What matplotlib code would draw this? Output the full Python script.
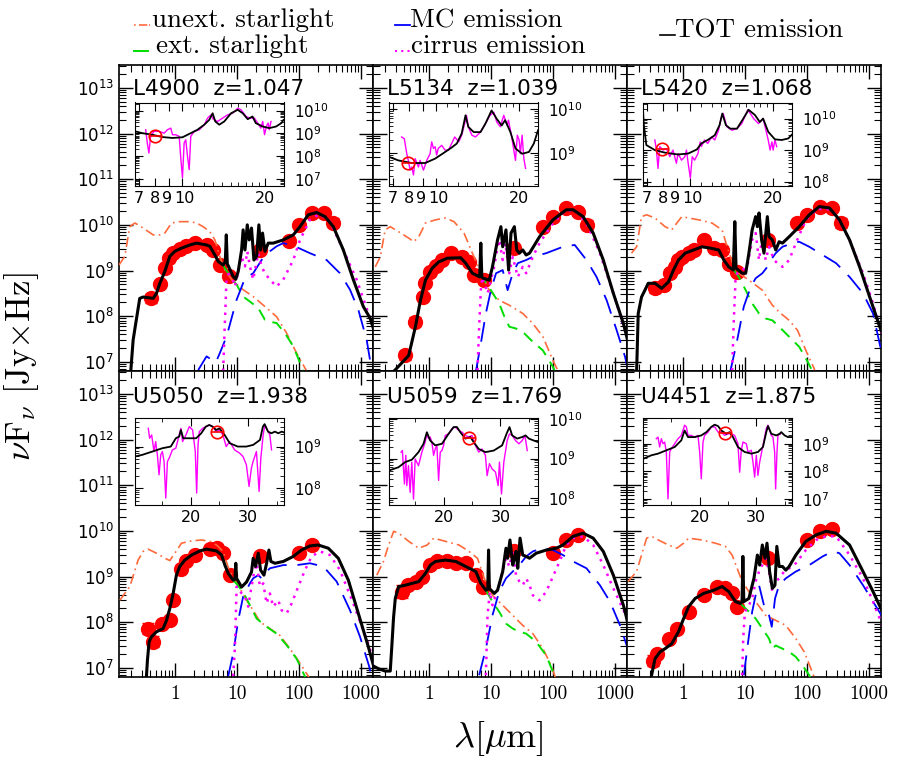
import numpy as np
import matplotlib
matplotlib.use("Agg")
import matplotlib.pyplot as plt
from matplotlib.lines import Line2D
from matplotlib.transforms import offset_copy
from matplotlib.ticker import FixedLocator, FuncFormatter, NullFormatter, LogFormatterMathtext

plt.rcParams["font.family"] = ["DejaVu Sans"]
plt.rcParams["mathtext.fontset"] = "cm"

# all curves: (lambda [um], log10 nuFnu [Jy x Hz]); photometry: (lambda, log10 nuFnu, log error)

# ---------------- L4900 z=1.047 ----------------
l4900_tot = [(0.195, 6.80), (0.213, 7.48), (0.235, 7.85), (0.272, 8.39), (0.308, 8.42), (0.448, 8.39),
             (0.506, 8.50), (0.573, 8.72), (0.69, 8.98), (0.83, 9.31), (1.0, 9.42), (1.28, 9.49),
             (1.75, 9.56), (2.24, 9.60), (3.24, 9.56), (3.67, 9.53), (4.42, 9.34), (5.0, 9.20),
             (6.0, 9.12), (6.5, 9.20), (6.75, 9.78), (7.0, 9.15), (8.7, 8.87), (9.6, 8.81),
             (10.5, 8.98), (11.9, 9.45), (12.6, 9.89), (13.5, 9.45), (14.7, 10.0), (15.8, 9.67),
             (17.2, 9.93), (18.8, 9.23), (20.8, 9.31), (22.6, 10.0), (24.1, 9.45), (25.9, 9.82),
             (28.3, 9.42), (32, 9.60), (38.5, 9.60), (55.9, 9.67), (81, 9.78), (104, 9.96),
             (141, 10.22), (193, 10.27), (263, 10.18), (358, 9.96), (519, 9.45), (752, 8.80),
             (1090, 8.21), (1397, 7.96), (1700, 7.6)]
l4900_unext = [(0.126, 9.12), (0.156, 9.31), (0.188, 9.96), (0.226, 10.04), (0.256, 10.0), (0.308, 9.93),
               (0.448, 9.78), (0.573, 9.78), (0.69, 9.82), (0.884, 10.04), (1.2, 10.07), (1.75, 10.07),
               (2.24, 10.04), (2.86, 9.96), (3.67, 9.85), (4.42, 9.67), (5.3, 9.31), (6.4, 9.01),
               (8.7, 8.76), (12.6, 8.58), (18.3, 8.43), (30.1, 8.18), (43.6, 7.99), (63.2, 7.63),
               (91.7, 7.19), (133, 6.80), (160, 6.5)]
l4900_ext = [(6.0, 9.12), (6.4, 9.05), (8.2, 8.83), (9.9, 8.69), (12.6, 8.43), (16.2, 8.32), (22.1, 8.18),
             (28.3, 7.92), (34, 7.88), (43.6, 7.85), (59.4, 7.63), (81, 7.34), (110, 6.90), (125, 6.7)]
l4900_mc = [(2.38, 6.82), (3.24, 7.12), (4.58, 6.99), (5.3, 7.19), (6.8, 7.55), (9.9, 8.36), (13.5, 8.83),
            (18.3, 8.94), (25, 9.23), (34, 9.42), (43.6, 9.53), (55.9, 9.60), (86, 9.53), (150, 9.38),
            (279, 9.23), (458, 8.94), (665, 8.58), (906, 8.14), (1234, 7.48), (1397, 7.04), (1600, 6.6)]
l4900_cirrus = [(6.0, 6.80), (6.4, 7.85), (6.8, 8.80), (7.7, 9.01), (9.3, 8.65), (11.9, 9.31), (13.5, 9.09),
                (14.7, 9.42), (16.2, 9.09), (18.3, 8.80), (22.1, 9.38), (25, 9.09), (28.3, 8.94),
                (34, 8.80), (43.6, 8.65), (55.9, 8.80), (81, 9.23), (104, 9.67), (150, 10.11),
                (218, 10.24), (316, 10.07), (519, 9.45), (851, 8.80), (1397, 7.96), (1700, 7.6)]
l4900_pts = [(0.42, 8.39, 0.1), (0.57, 8.71, 0), (0.69, 9.05, 0), (0.81, 9.27, 0), (0.94, 9.38, 0),
             (1.2, 9.47, 0), (1.54, 9.53, 0), (2.1, 9.61, 0), (3.24, 9.56, 0), (4.15, 9.45, 0),
             (5.3, 9.12, 0), (7.5, 8.88, 0), (24, 9.45, 0), (70, 9.65, 0.08), (100, 10.0, 0),
             (160, 10.25, 0), (250, 10.27, 0), (350, 10.05, 0.1)]
l4900_irs_model = [(6.77, 9.09), (7.19, 9.01), (7.82, 8.94), (8.5, 8.84), (9.25, 8.80), (10.05, 8.83),
                   (10.77, 9.01), (11.39, 9.16), (12.05, 9.38), (12.56, 9.59), (12.92, 9.88), (13.21, 9.52),
                   (13.65, 9.38), (14.23, 9.52), (15.06, 9.88), (15.92, 10.03), (16.6, 9.88), (17.3, 9.62),
                   (18.0, 9.74), (18.5, 9.45), (19.6, 9.30), (20.7, 9.23), (21.9, 9.30), (22.9, 9.45),
                   (23.3, 9.59)]
l4900_irs_spec = [(7.40, 9.16), (7.50, 8.58), (7.60, 8.14), (7.71, 8.87), (7.93, 9.09), (8.27, 9.09),
                  (8.63, 9.01), (8.87, 9.16), (9.12, 9.23), (9.25, 8.94), (9.51, 8.94), (9.78, 8.87),
                  (9.92, 7.86), (10.05, 7.06), (10.19, 8.58), (10.33, 8.72), (10.48, 8.0), (10.63, 7.42),
                  (10.77, 8.87), (11.09, 9.09), (11.57, 9.16), (12.05, 9.38), (12.39, 9.67), (12.74, 9.81),
                  (12.98, 9.62), (13.46, 9.52), (14.04, 9.67), (14.64, 9.81), (15.26, 9.88), (15.92, 10.1),
                  (16.37, 10.03), (17.06, 9.74), (17.55, 9.67), (18.29, 9.67), (18.8, 9.45), (19.3, 9.23),
                  (19.6, 9.52), (19.9, 8.94), (20.2, 9.30), (20.5, 9.45), (20.7, 9.16), (21.0, 9.52)]
l4900_irs_phot = (8.0, 8.87)

# ---------------- L5134 z=1.039 ----------------
l5134_tot = [(0.124, 6.5), (0.281, 6.81), (0.474, 7.14), (0.608, 7.77), (0.733, 8.35), (0.883, 8.79),
             (1.13, 9.05), (1.45, 9.19), (1.98, 9.27), (3.26, 9.28), (3.93, 9.16), (5.04, 8.94),
             (6.6, 8.86), (6.88, 9.60), (7.14, 8.86), (7.51, 8.83), (9.4, 8.79), (10.6, 9.08),
             (12.8, 9.67), (14.5, 9.96), (15.5, 9.52), (17.5, 9.89), (19.3, 9.01), (21.1, 9.82),
             (23.9, 9.96), (26.1, 9.45), (28.8, 9.38), (32.6, 9.45), (37, 9.34), (41.9, 9.38),
             (60.8, 9.74), (100, 10.11), (164, 10.33), (211, 10.33), (306, 10.18), (445, 9.82),
             (647, 9.23), (940, 8.50), (1365, 7.84), (1545, 7.55), (1700, 7.3)]
l5134_unext = [(0.137, 9.08), (0.165, 9.30), (0.198, 9.89), (0.239, 9.96), (0.326, 9.85), (0.474, 9.71),
               (0.571, 9.63), (0.689, 9.74), (0.883, 10.04), (1.28, 10.11), (1.86, 10.15), (2.54, 10.07),
               (3.69, 9.82), (5.04, 9.38), (6.88, 8.94), (9.4, 8.57), (13.6, 8.35), (19.8, 8.24),
               (32.6, 8.06), (47.4, 7.84), (68.9, 7.55), (100, 7.03), (120, 6.81), (140, 6.6)]
l5134_ext = [(6.47, 8.94), (7.8, 8.79), (10, 8.57), (13.6, 8.28), (16.5, 7.99), (19.8, 7.77), (25.4, 7.73),
             (34.7, 7.62), (47.4, 7.44), (68.9, 7.25), (100, 6.89), (115, 6.7)]
l5134_mc = [(5.71, 6.78), (6.88, 7.40), (8.3, 8.06), (10, 8.57), (12.1, 8.94), (15.5, 9.01), (18.6, 8.57),
            (22.5, 8.94), (27.1, 9.16), (37, 9.23), (47.4, 9.30), (78, 9.38), (145, 9.52), (224, 9.56),
            (347, 9.23), (504, 8.86), (733, 8.35), (1065, 7.69), (1452, 7.11), (1700, 6.7)]
l5134_cirrus = [(6.08, 6.81), (6.47, 7.77), (6.88, 8.57), (7.33, 8.86), (8.83, 8.50), (11.3, 9.08),
                (12.8, 9.52), (13.6, 9.67), (15.5, 9.23), (17.1, 9.60), (19.8, 8.94), (22.5, 9.30),
                (27.1, 8.86), (32.6, 9.08), (37, 8.94), (47.4, 9.30), (60.8, 9.60), (100, 10.04),
                (164, 10.33), (239, 10.29), (347, 10.04), (571, 9.38), (940, 8.50), (1452, 7.69),
                (1700, 7.4)]
l5134_pts = [(0.42, 7.14, 0.1), (0.59, 7.88, 0.1), (0.8, 8.42, 0), (0.88, 8.72, 0), (1.06, 8.97, 0),
             (1.31, 9.10, 0), (1.64, 9.23, 0), (2.24, 9.38, 0), (3.47, 9.30, 0), (4.45, 9.19, 0),
             (5.37, 8.90, 0), (7.8, 8.79, 0), (24, 9.49, 0), (70, 9.96, 0), (100, 10.18, 0),
             (160, 10.37, 0), (250, 10.29, 0), (350, 10.0, 0.1)]
l5134_irs_model = [(6.77, 8.91), (7.31, 8.83), (8.18, 8.77), (9.15, 8.77), (9.94, 8.87), (10.8, 9.02),
                   (11.4, 9.12), (11.9, 9.21), (12.4, 9.44), (12.8, 9.85), (13.1, 9.59), (13.7, 9.47),
                   (14.5, 9.47), (15.1, 9.66), (15.9, 9.96), (16.6, 9.77), (17.3, 9.62), (17.8, 9.74),
                   (18.6, 9.47), (19.4, 9.10), (20.5, 8.98), (21.7, 9.02), (22.6, 9.21), (23.4, 9.51)]
l5134_irs_spec = [(7.52, 9.36), (7.69, 9.32), (7.85, 8.98), (7.95, 8.83), (8.07, 8.61), (8.18, 8.68),
                  (8.30, 8.50), (8.41, 8.87), (8.65, 8.68), (8.77, 8.83), (9.02, 8.61), (9.27, 8.83),
                  (9.53, 8.98), (9.66, 9.25), (9.80, 9.10), (9.94, 9.14), (10.07, 8.95), (10.2, 9.10),
                  (10.5, 9.17), (10.8, 9.06), (11.1, 9.06), (11.4, 9.21), (11.7, 9.36), (12.1, 9.25),
                  (12.4, 9.40), (12.8, 9.74), (12.9, 9.85), (13.1, 9.59), (13.5, 9.40), (13.9, 9.36),
                  (14.5, 9.47), (15.1, 9.66), (15.7, 9.85), (16.2, 9.92), (16.6, 9.70), (17.1, 9.59),
                  (17.6, 9.85), (18.1, 9.62), (18.3, 9.74), (18.8, 9.36), (19.4, 8.83), (19.7, 9.40),
                  (20.0, 9.29), (20.2, 8.98), (20.5, 9.40), (20.8, 8.87), (21.1, 8.65)]
l5134_irs_phot = (7.9, 8.76)

# ---------------- L5420 z=1.068 ----------------
l5420_tot = [(0.18, 6.78), (0.191, 8.06), (0.216, 8.42), (0.245, 8.57), (0.277, 8.72), (0.356, 8.72),
             (0.456, 8.61), (0.586, 8.75), (0.706, 9.01), (0.851, 9.23), (1.09, 9.38), (1.49, 9.45),
             (2.03, 9.52), (2.78, 9.49), (3.79, 9.45), (4.57, 9.23), (5.5, 9.08), (6.5, 9.01),
             (6.88, 10.07), (7.2, 9.05), (9.05, 8.94), (10.3, 8.94), (11.6, 9.38), (13.1, 9.89),
             (14.9, 10.18), (15.9, 9.96), (16.9, 10.26), (18.6, 9.67), (20.3, 9.38), (23, 10.18),
             (24.5, 9.74), (27.7, 9.67), (31.4, 9.45), (35.6, 9.63), (40.3, 9.60), (51.7, 9.74),
             (75, 9.96), (109, 10.22), (158, 10.40), (230, 10.37), (334, 10.11), (486, 9.67),
             (706, 9.08), (1025, 8.42), (1489, 7.77), (1644, 7.62)]
l5420_unext = [(0.149, 9.38), (0.18, 9.52), (0.216, 10.18), (0.261, 10.22), (0.356, 10.15), (0.517, 9.96),
               (0.663, 9.89), (0.80, 10.04), (0.963, 10.18), (1.24, 10.15), (1.8, 10.11), (2.95, 10.04),
               (4.29, 9.89), (5.17, 9.52), (6.63, 9.08), (8.0, 8.94), (11.6, 8.79), (19.1, 8.57),
               (27.7, 8.24), (37.9, 8.06), (51.7, 7.91), (70.6, 7.69), (96, 7.25), (131, 6.85), (150, 6.6)]
l5420_ext = [(6.63, 9.01), (8.0, 8.86), (10.3, 8.57), (13.1, 8.28), (16.9, 8.06), (21.6, 7.95), (27.7, 7.91),
             (35.6, 7.77), (51.7, 7.55), (75, 7.33), (103, 7.0), (124, 6.78)]
l5420_mc = [(5.86, 6.81), (7.5, 7.47), (9.6, 8.21), (12.4, 8.64), (14.9, 8.83), (19.1, 8.94), (23, 9.08),
            (26.1, 9.23), (31.4, 9.38), (40.3, 9.52), (58.6, 9.60), (75, 9.63), (109, 9.52), (179, 9.34),
            (295, 9.16), (486, 8.86), (800, 8.50), (1161, 8.06), (1585, 7.22)]
l5420_cirrus = [(6.23, 6.81), (6.63, 7.91), (7.06, 8.79), (7.5, 8.94), (10.9, 9.08), (13.1, 9.67),
                (14.9, 9.82), (16.9, 9.23), (19.1, 9.74), (21.6, 9.23), (24.5, 9.52), (29.5, 9.23),
                (33.4, 9.16), (40.3, 9.08), (51.7, 9.23), (66.3, 9.60), (96, 10.11), (140, 10.33),
                (203, 10.37), (295, 10.22), (486, 9.67), (800, 8.94), (1161, 8.28), (1644, 7.55)]
l5420_pts = [(0.36, 8.61, 0.1), (0.49, 8.68, 0), (0.62, 8.94, 0), (0.75, 9.08, 0), (0.85, 9.23, 0),
             (0.96, 9.30, 0), (1.24, 9.38, 0), (1.49, 9.45, 0), (2.16, 9.67, 0), (3.14, 9.49, 0),
             (4.29, 9.45, 0), (5.5, 9.14, 0), (7.5, 8.97, 0), (24, 9.67, 0), (70, 10.04, 0),
             (100, 10.22, 0), (160, 10.40, 0), (250, 10.37, 0), (350, 10.04, 0.1)]
l5420_irs_model = [(6.77, 10.3), (6.81, 9.84), (6.96, 9.16), (7.47, 9.0), (8.11, 8.92), (9.06, 8.86),
                   (9.86, 8.89), (10.6, 9.02), (11.0, 9.21), (11.6, 9.32), (12.3, 9.47), (12.8, 9.79),
                   (13.1, 10.16), (13.5, 9.79), (14.0, 9.68), (14.8, 9.68), (15.6, 10.0), (16.3, 10.28),
                   (17.2, 10.11), (17.9, 9.89), (18.4, 10.0), (19.2, 9.58), (20.3, 9.34), (21.5, 9.32),
                   (22.7, 9.37), (23.5, 9.51)]
l5420_irs_spec = [(7.47, 9.32), (7.57, 9.0), (7.67, 8.42), (7.78, 9.11), (8.0, 9.0), (8.22, 9.05),
                  (8.46, 8.79), (8.69, 9.0), (8.94, 8.58), (9.06, 8.89), (9.33, 8.68), (9.59, 8.79),
                  (9.72, 9.0), (9.86, 8.58), (10.04, 8.11), (10.2, 8.79), (10.4, 8.68), (10.7, 8.89),
                  (10.9, 9.26), (11.0, 9.11), (11.3, 9.32), (11.6, 9.21), (12.0, 9.42), (12.3, 9.32),
                  (12.7, 9.63), (13.0, 10.05), (13.2, 10.16), (13.6, 9.74), (14.2, 9.63), (14.8, 9.68),
                  (15.4, 9.84), (16.2, 10.28), (17.0, 10.0), (17.7, 9.84), (18.4, 10.0), (19.2, 9.32),
                  (19.5, 9.0), (19.8, 9.26), (20.0, 9.0), (20.3, 9.32), (20.6, 9.11)]
l5420_irs_phot = (7.9, 9.05)

# ---------------- U5050 z=1.938 ----------------
u5050_tot = [(0.349, 6.82), (0.362, 7.17), (0.385, 7.57), (0.42, 7.68), (0.506, 7.79), (0.648, 7.86),
             (0.734, 8.04), (0.83, 8.30), (0.94, 8.63), (1.06, 9.03), (1.20, 9.22), (1.45, 9.36),
             (1.86, 9.47), (2.53, 9.56), (3.24, 9.60), (4.7, 9.56), (5.66, 9.47), (6.4, 9.25),
             (7.25, 9.07), (8.7, 8.92), (9.3, 8.94), (9.6, 9.29), (9.9, 8.96), (11.9, 8.77),
             (14.3, 8.88), (17.2, 9.10), (18.3, 9.40), (20, 9.22), (22.1, 9.51), (24.1, 9.14),
             (27.3, 9.03), (30.1, 9.29), (32.8, 9.58), (35.3, 9.33), (41, 9.29), (55.9, 9.33),
             (81, 9.44), (110, 9.58), (150, 9.67), (205, 9.69), (297, 9.62), (431, 9.40),
             (625, 8.92), (906, 8.19), (1313, 7.46), (1700, 6.9)]
u5050_unext = [(0.13, 8.48), (0.188, 8.78), (0.256, 9.36), (0.308, 9.55), (0.371, 9.60), (0.506, 9.51),
               (0.69, 9.40), (0.83, 9.35), (1.0, 9.51), (1.28, 9.73), (1.86, 9.78), (2.69, 9.80),
               (3.67, 9.77), (4.7, 9.69), (6.0, 9.55), (7.5, 9.14), (10.5, 8.81), (14.3, 8.48),
               (18.3, 8.26), (23.5, 8.01), (34, 7.86), (49.4, 7.71), (71.6, 7.42), (97.5, 7.16),
               (141, 6.82), (170, 6.6)]
u5050_ext = [(8.7, 8.92), (9.9, 8.84), (12.6, 8.66), (16.2, 8.37), (20.8, 8.08), (30.1, 7.90), (43.6, 7.75),
             (63.2, 7.50), (91.7, 7.20), (124, 6.82), (145, 6.6)]
u5050_mc = [(7.25, 6.82), (8.7, 7.31), (10.5, 8.04), (12.6, 8.56), (16.2, 8.85), (18.3, 8.96), (22.1, 9.03),
            (25, 8.96), (28.3, 9.07), (34, 9.18), (55.9, 9.25), (91.7, 9.25), (150, 9.29), (247, 9.22),
            (405, 8.89), (665, 8.26), (964, 7.68), (1362, 7.02), (1600, 6.6)]
u5050_cirrus = [(8.7, 6.82), (9.3, 7.46), (9.9, 8.78), (11.2, 8.67), (13.5, 8.56), (15.2, 8.34),
                (17.2, 8.78), (18.8, 9.07), (20.8, 9.29), (23.5, 8.78), (26.6, 8.85), (30.1, 8.41),
                (34, 8.63), (38.5, 8.34), (46.4, 8.48), (52.6, 8.26), (63.2, 8.19), (76.2, 8.41),
                (97.5, 8.78), (125, 9.14), (160, 9.44), (218, 9.55), (316, 9.47), (458, 9.14),
                (752, 8.41), (1362, 7.46), (1700, 7.0)]
u5050_pts = [(0.37, 7.86, 0.12), (0.44, 7.57, 0.12), (0.61, 7.97, 0), (0.83, 8.04, 0), (0.94, 8.48, 0),
             (1.28, 9.16, 0), (1.54, 9.33, 0), (2.1, 9.47, 0), (3.67, 9.60, 0), (4.7, 9.62, 0),
             (6.0, 9.51, 0), (7.7, 9.03, 0), (24, 9.44, 0), (100, 9.51, 0.08), (160, 9.69, 0.06)]
u5050_irs_model = [(10.18, 8.76), (11.47, 8.80), (13.24, 8.88), (15.0, 8.96), (16.47, 9.0), (17.35, 9.2),
                   (17.94, 9.24), (18.24, 9.40), (18.65, 9.20), (19.7, 9.20), (20.9, 9.20), (21.8, 9.32),
                   (22.6, 9.48), (23.2, 9.52), (23.8, 9.48), (24.4, 9.40), (25.0, 9.44), (25.9, 9.28),
                   (26.8, 9.08), (28.2, 9.0), (29.7, 9.0), (30.9, 9.04), (32.1, 9.16), (32.6, 9.48),
                   (32.9, 9.54), (33.5, 9.36), (34.1, 9.32), (34.7, 9.36), (35.3, 9.32), (35.9, 9.36),
                   (36.3, 9.34)]
u5050_irs_spec = [(12.53, 9.44), (12.76, 9.2), (13.12, 9.28), (13.53, 8.88), (13.82, 9.12), (14.12, 8.8),
                  (14.41, 8.32), (14.71, 8.8), (15.0, 8.88), (15.29, 8.64), (15.59, 7.76), (15.88, 8.64),
                  (16.18, 8.72), (16.76, 8.92), (17.35, 8.96), (17.94, 9.28), (18.24, 9.44), (18.53, 9.12),
                  (19.12, 9.28), (19.71, 9.48), (20.29, 9.40), (20.76, 8.88), (21.0, 7.88), (21.24, 9.04),
                  (21.47, 9.36), (22.06, 9.44), (22.65, 9.48), (23.24, 9.52), (23.82, 9.48), (24.41, 9.36),
                  (25.0, 9.40), (25.59, 9.28), (26.18, 9.0), (26.76, 9.12), (27.65, 8.92), (28.53, 8.84),
                  (29.12, 8.76), (29.71, 8.56), (30.18, 8.04), (30.59, 8.48), (30.88, 8.64), (31.47, 8.88),
                  (31.94, 7.92), (32.24, 8.72), (32.65, 9.28), (32.94, 9.52), (33.24, 9.44), (33.82, 9.28),
                  (34.12, 8.92)]
u5050_irs_phot = (24.5, 9.36)

# ---------------- U5059 z=1.769 ----------------
u5059_tot = [(0.124, 7.05), (0.155, 6.98), (0.198, 6.93), (0.239, 6.93), (0.254, 7.5), (0.27, 8.1),
             (0.288, 8.52), (0.326, 8.78), (0.419, 8.81), (0.537, 8.85), (0.689, 8.89), (0.883, 9.07),
             (1.06, 9.25), (1.28, 9.33), (1.86, 9.36), (2.71, 9.33), (3.93, 9.22), (5.71, 9.11),
             (6.88, 8.85), (8.3, 8.70), (8.9, 8.72), (9.17, 9.58), (9.45, 8.74), (11.3, 8.63),
             (12.8, 8.70), (15.5, 9.11), (17.5, 9.62), (18.6, 9.40), (20.3, 9.80), (22.5, 9.25),
             (23.9, 9.40), (25.4, 9.55), (27.1, 9.18), (29.5, 9.84), (32.6, 9.47), (37, 9.44),
             (41.9, 9.40), (53.7, 9.51), (78, 9.58), (113, 9.62), (145, 9.69), (211, 9.88),
             (306, 9.95), (445, 9.84), (647, 9.55), (940, 9.03), (1365, 8.37), (1545, 8.08), (1700, 7.8)]
u5059_unext = [(0.145, 9.03), (0.186, 9.33), (0.225, 9.69), (0.271, 9.99), (0.326, 9.95), (0.474, 9.77),
               (0.689, 9.62), (0.94, 9.69), (1.2, 9.84), (1.86, 9.77), (3.06, 9.69), (4.45, 9.55),
               (6.08, 9.40), (7.8, 8.96), (10.6, 8.59), (15.5, 8.37), (22.5, 8.15), (32.6, 7.93),
               (47.4, 7.75), (68.9, 7.42), (94, 7.05), (106, 6.84), (120, 6.6)]
u5059_ext = [(8.3, 8.70), (10.6, 8.45), (13.6, 8.23), (17.5, 7.97), (22.5, 7.86), (28.8, 7.79), (37, 7.75),
             (53.7, 7.57), (78, 7.27), (100, 6.91), (110, 6.7)]
u5059_mc = [(6.47, 6.84), (8.3, 7.42), (10.6, 8.15), (13.6, 8.67), (17.5, 8.96), (22.5, 9.11), (28.8, 9.25),
            (37, 9.44), (47.4, 9.55), (68.9, 9.62), (100, 9.58), (145, 9.47), (211, 9.33), (347, 9.18),
            (571, 8.81), (830, 8.45), (1205, 7.93), (1545, 7.49), (1700, 7.3)]
u5059_cirrus = [(8.3, 6.84), (8.83, 8.15), (9.63, 8.67), (10.6, 8.37), (13.6, 8.81), (15.5, 9.11),
                (17.5, 9.40), (19.8, 9.22), (22.5, 9.55), (25.4, 9.03), (28.8, 8.89), (32.6, 8.81),
                (37, 8.96), (41.9, 8.81), (47.4, 8.59), (60.8, 8.48), (78, 8.67), (100, 9.0),
                (128, 9.33), (164, 9.69), (211, 9.84), (306, 9.88), (445, 9.69), (647, 9.25),
                (940, 8.74), (1497, 8.15), (1700, 7.9)]
u5059_pts = [(0.37, 8.67, 0.15), (0.47, 8.81, 0), (0.61, 8.89, 0), (0.78, 9.0, 0), (1.06, 9.25, 0),
             (1.36, 9.33, 0), (1.98, 9.33, 0), (2.71, 9.29, 0), (3.93, 9.29, 0), (5.71, 9.03, 0),
             (7.33, 8.78, 0), (24, 9.55, 0), (100, 9.51, 0.08), (160, 9.80, 0), (250, 9.91, 0)]
u5059_irs_model = [(10.41, 8.70), (12.06, 8.78), (13.24, 8.91), (14.41, 8.97), (15.59, 9.16), (16.47, 9.37),
                   (17.06, 9.66), (17.65, 9.45), (18.53, 9.33), (19.71, 9.37), (20.88, 9.62), (21.76, 9.79),
                   (22.35, 9.79), (22.94, 9.66), (23.82, 9.50), (24.71, 9.54), (25.29, 9.41), (26.18, 9.24),
                   (27.35, 9.16), (28.82, 9.20), (30.29, 9.33), (31.18, 9.66), (31.59, 9.79), (32.06, 9.58),
                   (32.94, 9.50), (33.82, 9.54), (34.41, 9.58), (35.0, 9.50), (35.88, 9.45), (36.65, 9.41)]
u5059_irs_spec = [(12.53, 9.16), (12.76, 9.20), (12.94, 8.74), (13.12, 8.36), (13.35, 9.08), (13.53, 8.32),
                  (13.82, 8.82), (14.12, 8.15), (14.41, 8.91), (14.71, 7.98), (15.0, 8.99), (15.59, 8.82),
                  (16.18, 9.16), (16.76, 9.41), (17.06, 9.62), (17.35, 9.50), (17.65, 9.54), (17.94, 9.41),
                  (18.24, 9.08), (18.53, 9.24), (18.82, 9.33), (19.12, 8.45), (19.41, 9.16), (19.71, 9.20),
                  (20.0, 9.33), (20.29, 9.58), (20.88, 9.62), (21.47, 9.75), (22.06, 9.79), (22.65, 9.71),
                  (23.24, 9.66), (23.82, 9.58), (24.41, 9.54), (25.0, 9.58), (25.59, 9.33), (26.18, 9.16),
                  (26.76, 9.24), (27.35, 9.08), (27.65, 8.57), (28.06, 8.87), (28.53, 8.74), (29.12, 8.66),
                  (29.59, 8.32), (29.82, 8.91), (30.18, 8.11), (30.59, 8.91), (31.18, 9.45), (31.59, 9.62),
                  (32.06, 9.58), (32.65, 9.45), (33.24, 9.37), (33.82, 9.45), (34.29, 9.58), (34.71, 9.20)]
u5059_irs_phot = (24.5, 9.52)

# ---------------- U4451 z=1.875 ----------------
u4451_tot = [(0.314, 6.84), (0.356, 7.20), (0.429, 7.35), (0.517, 7.42), (0.663, 7.53), (0.851, 7.79),
             (1.03, 8.08), (1.24, 8.34), (1.58, 8.52), (2.16, 8.63), (3.14, 8.70), (4.29, 8.78),
             (5.5, 8.67), (7.06, 8.45), (8.5, 8.41), (9.0, 8.45), (9.28, 9.44), (9.6, 8.45),
             (11.6, 8.52), (14.0, 8.96), (15.9, 9.47), (17.3, 9.25), (19.1, 9.69), (21.1, 9.40),
             (22.7, 9.73), (25, 9.11), (27.7, 8.74), (30.5, 8.81), (32.7, 9.66), (35.6, 9.22),
             (40.3, 9.22), (45.6, 9.14), (51.7, 9.22), (66.3, 9.47), (96, 9.77), (140, 9.91),
             (203, 9.99), (295, 9.95), (486, 9.69), (800, 9.11), (1161, 8.67), (1644, 8.23)]
u4451_unext = [(0.131, 8.89), (0.18, 9.11), (0.216, 9.47), (0.261, 9.84), (0.314, 9.88), (0.403, 9.80),
               (0.586, 9.69), (0.80, 9.62), (1.03, 9.73), (1.24, 9.84), (2.03, 9.80), (3.35, 9.73),
               (4.86, 9.66), (6.23, 9.47), (7.5, 9.18), (9.05, 8.89), (11.6, 8.67), (14.9, 8.45),
               (21.6, 8.15), (31.4, 8.04), (45.6, 7.93), (66.3, 7.64), (90.5, 7.35), (116, 6.98),
               (131, 6.80), (150, 6.6)]
u4451_ext = [(8.5, 8.41), (9.05, 8.37), (11.6, 8.23), (14.9, 8.08), (19.1, 7.86), (24.5, 7.64), (27.7, 7.42),
             (31.4, 7.49), (40.3, 7.42), (51.7, 7.35), (66.3, 7.24), (85, 7.05), (109, 6.84), (125, 6.6)]
u4451_mc = [(9.63, 6.84), (10.9, 7.42), (13.1, 8.23), (14.9, 8.59), (16.9, 8.81), (20.3, 8.37), (24.5, 8.15),
            (27.1, 7.90), (30.6, 8.52), (35.6, 8.81), (45.6, 8.96), (66.3, 9.11), (109, 9.25),
            (179, 9.44), (261, 9.55), (334, 9.51), (486, 9.25), (800, 8.81), (1161, 8.45), (1585, 8.15)]
u4451_cirrus = [(9.05, 6.84), (9.4, 7.64), (10.0, 8.23), (11.3, 8.34), (13.1, 8.52), (14.9, 8.89),
                (16.9, 9.11), (19.1, 9.25), (21.6, 9.40), (24.5, 9.11), (27.7, 8.67), (31.4, 8.89),
                (35.6, 8.96), (42.9, 9.11), (51.7, 9.18), (66.3, 9.29), (96, 9.58), (140, 9.80),
                (203, 9.88), (295, 9.88), (486, 9.47), (800, 8.96), (1161, 8.45), (1644, 7.93)]
u4451_pts = [(0.335, 7.16, 0.12), (0.38, 7.31, 0), (0.59, 7.64, 0), (0.8, 7.86, 0), (1.24, 8.23, 0),
             (2.16, 8.59, 0), (3.56, 8.78, 0), (4.86, 8.74, 0), (6.23, 8.63, 0), (7.5, 8.34, 0),
             (24, 9.40, 0.05), (100, 9.80, 0), (160, 9.99, 0), (250, 10.04, 0)]
u4451_irs_model = [(10.0, 8.45), (11.47, 8.58), (12.65, 8.64), (14.12, 8.76), (15.59, 8.88), (16.76, 9.12),
                   (17.35, 9.48), (17.94, 9.24), (19.12, 9.24), (20.29, 9.30), (21.18, 9.42), (22.06, 9.61),
                   (22.65, 9.69), (23.24, 9.64), (23.82, 9.48), (24.71, 9.36), (25.29, 9.42), (25.88, 9.24),
                   (26.76, 8.88), (27.94, 8.70), (29.12, 8.64), (30.29, 8.70), (31.18, 8.88), (31.76, 9.42),
                   (32.06, 9.64), (32.65, 9.36), (33.53, 9.30), (34.12, 9.36), (34.41, 9.42), (35.0, 9.30),
                   (35.59, 9.24), (36.29, 9.24)]
u4451_irs_spec = [(12.35, 9.18), (12.65, 9.24), (12.94, 8.88), (13.24, 9.18), (13.53, 9.0), (13.82, 9.06),
                  (14.12, 8.70), (14.41, 7.0), (14.71, 8.70), (15.0, 8.82), (15.59, 9.0), (16.18, 9.18),
                  (16.76, 9.30), (17.35, 9.67), (17.65, 9.61), (17.94, 9.30), (18.53, 9.30), (19.12, 9.24),
                  (19.71, 9.30), (20.0, 8.70), (20.29, 7.73), (20.59, 9.06), (20.88, 9.30), (21.47, 9.42),
                  (22.06, 9.61), (22.65, 9.61), (23.24, 9.42), (23.82, 9.42), (24.41, 9.30), (25.0, 9.36),
                  (25.59, 9.36), (26.18, 9.30), (26.76, 9.0), (27.06, 7.97), (27.35, 8.76), (27.65, 9.06),
                  (28.24, 9.0), (28.53, 8.70), (29.12, 8.76), (29.41, 8.33), (29.71, 7.79), (30.0, 8.58),
                  (30.29, 7.85), (30.59, 8.33), (31.18, 8.94), (31.76, 9.55), (32.06, 9.67), (32.65, 9.30),
                  (32.94, 9.24), (33.24, 8.70), (33.41, 7.36), (33.65, 8.70), (33.82, 9.30), (34.29, 9.36)]
u4451_irs_phot = (24.5, 9.39)

PANELS = [
    dict(name="L4900", z="1.047", tot=l4900_tot, unext=l4900_unext, ext=l4900_ext, mc=l4900_mc,
         cirrus=l4900_cirrus, pts=l4900_pts, model=l4900_irs_model, spec=l4900_irs_spec,
         phot=l4900_irs_phot, ixlim=(6.77, 23.4), iylim=(6.7, 10.35)),
    dict(name="L5134", z="1.039", tot=l5134_tot, unext=l5134_unext, ext=l5134_ext, mc=l5134_mc,
         cirrus=l5134_cirrus, pts=l5134_pts, model=l5134_irs_model, spec=l5134_irs_spec,
         phot=l5134_irs_phot, ixlim=(6.77, 23.4), iylim=(8.25, 10.14)),
    dict(name="L5420", z="1.068", tot=l5420_tot, unext=l5420_unext, ext=l5420_ext, mc=l5420_mc,
         cirrus=l5420_cirrus, pts=l5420_pts, model=l5420_irs_model, spec=l5420_irs_spec,
         phot=l5420_irs_phot, ixlim=(6.77, 23.4), iylim=(7.86, 10.51)),
    dict(name="U5050", z="1.938", tot=u5050_tot, unext=u5050_unext, ext=u5050_ext, mc=u5050_mc,
         cirrus=u5050_cirrus, pts=u5050_pts, model=u5050_irs_model, spec=u5050_irs_spec,
         phot=u5050_irs_phot, ixlim=(10.2, 36.3), iylim=(7.58, 9.70)),
    dict(name="U5059", z="1.769", tot=u5059_tot, unext=u5059_unext, ext=u5059_ext, mc=u5059_mc,
         cirrus=u5059_cirrus, pts=u5059_pts, model=u5059_irs_model, spec=u5059_irs_spec,
         phot=u5059_irs_phot, ixlim=(10.4, 36.6), iylim=(7.82, 10.03)),
    dict(name="U4451", z="1.875", tot=u4451_tot, unext=u4451_unext, ext=u4451_ext, mc=u4451_mc,
         cirrus=u4451_cirrus, pts=u4451_pts, model=u4451_irs_model, spec=u4451_irs_spec,
         phot=u4451_irs_phot, ixlim=(10.0, 36.3), iylim=(6.76, 9.95)),
]

# top-row inset wavelength labels and their small horizontal nudges (px) so "9" and "10" do not collide
IRS_TICKS = [7, 8, 9, 10, 20]
IRS_NUDGE = [0, 0, -2, 3, 0]

ORANGE = "#ff6a3c"
GREEN = "#00dd00"
BLUE = "#0000ff"
MAGENTA = "#ff00ff"

STYLES = {
    "unext": dict(color=ORANGE, lw=1.2, dashes=(6, 2.5, 1, 2.5)),
    "ext": dict(color=GREEN, lw=1.4, dashes=(6, 4)),
    "mc": dict(color=BLUE, lw=1.3, dashes=(11, 6)),
    "cirrus": dict(color=MAGENTA, lw=1.8, dashes=(1, 2.2)),
    "tot": dict(color="black", lw=2.2),
}

W, H = 899, 763
fig = plt.figure(figsize=(W / 100, H / 100), dpi=100)


def px_rect(x, y, w, h):
    return [x / W, 1 - (y + h) / H, w / W, h / H]


def curve(ax, pts, **kw):
    lam, lf = np.array(pts).T
    ax.plot(lam, 10 ** lf, **kw)


def log_ticks(lo, hi):
    # decade ticks and 2..9 minor ticks, only inside [lo, hi]
    decs = np.arange(np.floor(np.log10(lo)), np.ceil(np.log10(hi)) + 1)
    major = [10 ** d for d in decs if lo <= 10 ** d <= hi]
    minor = [m * 10 ** d for d in decs for m in range(2, 10) if lo <= m * 10 ** d <= hi]
    return major, minor


LEFTS = [119, 373, 627]
TOPS = [65, 371]
PW, PH = 254, 306
XLIM = (0.126, 1560)
YLIM = (10 ** 6.8, 10 ** 13.5)

for i, p in enumerate(PANELS):
    row, col = divmod(i, 3)
    ax = fig.add_axes(px_rect(LEFTS[col], TOPS[row], PW, PH))
    ax.set_xscale("log")
    ax.set_yscale("log")

    lam, lf, err = np.array(p["pts"]).T
    f = 10 ** lf
    ax.errorbar(lam, f, yerr=[f - 10 ** (lf - err), 10 ** (lf + err) - f], fmt="o", color="red",
                ms=10, ecolor="red", elinewidth=1.2, capsize=4, zorder=2)
    for key in ["unext", "ext", "mc", "cirrus"]:
        curve(ax, p[key], zorder=3, **STYLES[key])
    curve(ax, p["tot"], zorder=4, **STYLES["tot"])

    ax.set_xlim(*XLIM)
    ax.set_ylim(*YLIM)
    xmaj, xmin = log_ticks(*XLIM)
    ymaj, ymin = log_ticks(*YLIM)
    ax.xaxis.set_major_locator(FixedLocator(xmaj))
    ax.xaxis.set_minor_locator(FixedLocator(xmin))
    ax.yaxis.set_major_locator(FixedLocator(ymaj))
    ax.yaxis.set_minor_locator(FixedLocator(ymin))
    ax.xaxis.set_major_formatter(FuncFormatter(lambda v, pos: f"{v:g}"))
    ax.yaxis.set_major_formatter(LogFormatterMathtext())
    ax.xaxis.set_minor_formatter(NullFormatter())
    ax.yaxis.set_minor_formatter(NullFormatter())
    ax.tick_params(which="both", direction="in", top=True, right=True, width=1)
    ax.tick_params(which="major", length=10)
    ax.tick_params(which="minor", length=5, width=0.8)
    ax.tick_params(axis="y", labelsize=12, labelleft=(col == 0))
    ax.tick_params(axis="x", labelsize=14, labelfontfamily="cmr10", labelbottom=(row == 1), pad=6)
    for s in ax.spines.values():
        s.set_linewidth(1.2)

    ax.text(14 / PW, 1 - (24 if row == 0 else 26) / PH, f"{p['name']}  z={p['z']}",
            transform=ax.transAxes, fontsize=15.5, ha="left", va="center")

    # IRS inset
    itop = 102.5 if row == 0 else 417.5
    ih = 83.5 if row == 0 else 88
    ins = fig.add_axes(px_rect(LEFTS[col] + 16, itop, 149, ih))
    ins.set_yscale("log")
    if row == 0:
        ins.set_xscale("log")
        ins.xaxis.set_major_locator(FixedLocator(IRS_TICKS))
        ins.xaxis.set_minor_locator(FixedLocator(list(range(11, 20))))
        ins.xaxis.set_major_formatter(NullFormatter())
        ins.xaxis.set_minor_formatter(NullFormatter())
        for v, dx in zip(IRS_TICKS, IRS_NUDGE):
            tr = offset_copy(ins.get_xaxis_transform(), fig=fig, x=dx, y=-5, units="dots")
            ins.text(v, 0, f"{v:g}", transform=tr, ha="center", va="top", fontsize=11.5)
    else:
        ins.xaxis.set_major_locator(FixedLocator([20, 30]))
        ins.xaxis.set_minor_locator(FixedLocator([15, 25, 35]))
    curve(ins, p["spec"], color=MAGENTA, lw=1.0, zorder=2)
    curve(ins, p["model"], color="black", lw=1.3, zorder=3)
    ins.plot([p["phot"][0]], [10 ** p["phot"][1]], marker="o", ms=9, mfc="none", mec="red", mew=1.2, zorder=4)
    ins.plot([p["phot"][0]], [10 ** p["phot"][1]], marker="_", ms=9, color="red", mew=1.2, zorder=4)
    ins.set_xlim(*p["ixlim"])
    iy = (10 ** p["iylim"][0], 10 ** p["iylim"][1])
    ins.set_ylim(*iy)
    imaj, imin = log_ticks(*iy)
    ins.yaxis.set_major_locator(FixedLocator(imaj))
    ins.yaxis.set_minor_locator(FixedLocator(imin))
    ins.yaxis.set_major_formatter(LogFormatterMathtext())
    ins.yaxis.set_minor_formatter(NullFormatter())
    ins.tick_params(which="both", direction="in", top=True, right=True, labelleft=False, labelright=True)
    ins.tick_params(which="major", length=6)
    ins.tick_params(which="minor", length=3)
    ins.tick_params(axis="y", labelsize=11, pad=7)
    ins.tick_params(axis="x", labelsize=11.5)

# legend on top
def fig_line(x0, x1, y, **kw):
    fig.add_artist(Line2D([x0 / W, x1 / W], [1 - y / H, 1 - y / H], transform=fig.transFigure, **kw))


LEG_FONT = dict(family="cmr10", fontsize=19.5, va="baseline", ha="left")
fig_line(134, 150, 25, color=ORANGE, lw=1.2, dashes=(1, 2, 5, 1))
fig.text(152 / W, 1 - 27 / H, "unext. starlight", **LEG_FONT)
fig_line(134, 148, 51, color=GREEN, lw=1.4)
fig.text(156 / W, 1 - 53 / H, "ext. starlight", **LEG_FONT)
fig_line(395, 410, 25, color=BLUE, lw=1.3)
fig.text(410 / W, 1 - 27 / H, "MC emission", **LEG_FONT)
fig_line(395, 410, 51, color=MAGENTA, lw=1.5, dashes=(1, 2))
fig.text(411 / W, 1 - 53 / H, "cirrus emission", **LEG_FONT)
fig_line(660, 675, 35, color="black", lw=1.2)
fig.text(675 / W, 1 - 37 / H, "TOT emission", **LEG_FONT)

fig.text(22 / W, 1 - 367 / H, r"$\nu$F$_\nu$ [Jy$\times$Hz]", family="cmr10", fontsize=25,
         rotation=90, ha="center", va="center")
fig.text(498 / W, 1 - 738 / H, r"$\lambda$[$\mu$m]", family="cmr10", fontsize=26,
         ha="center", va="center")

fig.savefig("out.png", dpi=100)
